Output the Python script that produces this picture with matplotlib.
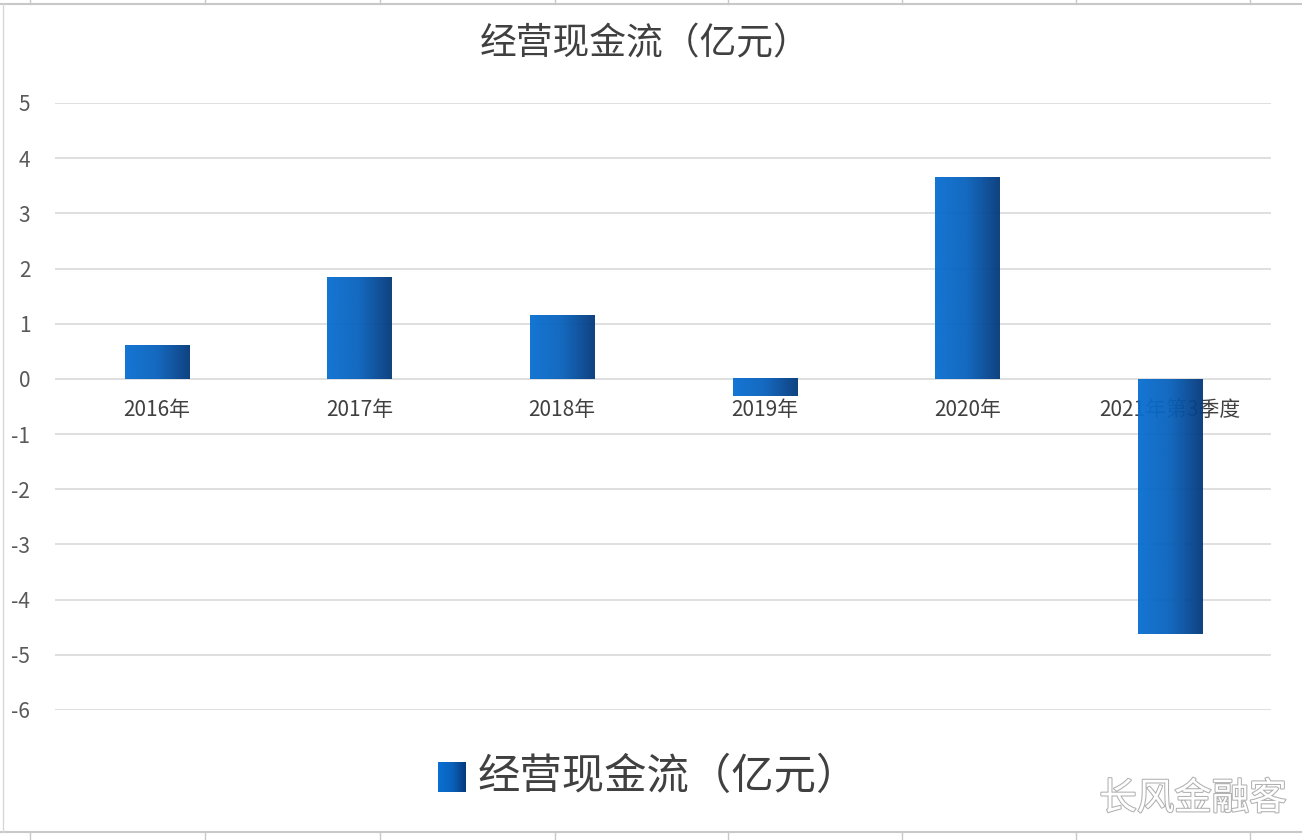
import numpy as np
import matplotlib
matplotlib.use('Agg')
from matplotlib import pyplot as plt
from matplotlib.colors import LinearSegmentedColormap
from matplotlib import patheffects as pe

plt.rcParams['font.family'] = ['Noto Sans CJK SC', 'DejaVu Sans']
plt.rcParams['axes.unicode_minus'] = False

categories = ['2016年', '2017年', '2018年', '2019年', '2020年', '2021年第3季度']
values = [0.6, 1.84, 1.15, -0.31, 3.65, -4.62]
yticks = [-6, -5, -4, -3, -2, -1, 0, 1, 2, 3, 4, 5]
title = '经营现金流（亿元）'

cmap = LinearSegmentedColormap.from_list('bar', ['#0a70d2', '#0a62bc', '#053a7c'])
grad = np.linspace(0, 1, 64).reshape(1, -1)

fig = plt.figure(figsize=(13.02, 8.4), dpi=100)
fig.patch.set_facecolor('white')
ax = fig.add_axes([0.0425, 0.1548, 0.9340, 0.7226])

width = 0.316
for i, v in enumerate(values):
    ax.imshow(grad, cmap=cmap, extent=(i - width / 2, i + width / 2, 0, v),
              aspect='auto', zorder=3, alpha=0.96, interpolation='bicubic')
    # category labels sit just under the zero line
    ax.text(i, -0.36, categories[i], ha='center', va='top', fontsize=15,
            color='#404040', zorder=2)

ax.set_xlim(-0.5, len(values) - 0.5)
ax.set_ylim(-6, 5)
ax.set_yticks(yticks)
ax.set_xticks([])
ax.grid(axis='y', color='#d9d9d9', linewidth=1.2, zorder=0)
ax.set_axisbelow(True)
for s in ax.spines.values():
    s.set_visible(False)
ax.tick_params(axis='y', length=0, pad=18, labelsize=15, labelcolor='#595959')
ax.set_facecolor('none')

fig.text(0.4955, 0.948, title, ha='center', va='center', fontsize=26.5, color='#404040')

# legend
lax = fig.add_axes([438 / 1302, 1 - 792 / 840, 28 / 1302, 30 / 840])
lax.imshow(grad, cmap=cmap, aspect='auto', interpolation='bicubic')
lax.axis('off')
fig.text(478 / 1302, 1 - 777 / 840, title, ha='left', va='center', fontsize=30.5, color='#404040')

# watermark
fig.text(1193 / 1302, 1 - 799 / 840, '长风金融客', ha='center', va='center', fontsize=27,
         color='white', path_effects=[pe.withStroke(linewidth=1.5, foreground='#b0b0b0')])

# sheet edges
fig.add_artist(plt.Line2D([0, 1], [1 - 4 / 840, 1 - 4 / 840], color='#c8c8c8', lw=1.5))
fig.add_artist(plt.Line2D([0, 1], [1 - 832 / 840, 1 - 832 / 840], color='#c8c8c8', lw=1.5))
fig.add_artist(plt.Line2D([3 / 1302, 3 / 1302], [1 - 832 / 840, 1 - 4 / 840], color='#d8d8d8', lw=1))
for x in [30, 205, 380, 555, 728, 902, 1076, 1250]:
    fig.add_artist(plt.Line2D([x / 1302, x / 1302], [0, 1 - 832 / 840], color='#c8c8c8', lw=1))
    fig.add_artist(plt.Line2D([x / 1302, x / 1302], [1 - 4 / 840, 1], color='#c8c8c8', lw=1))

fig.savefig('out.png', dpi=100, facecolor='white')
